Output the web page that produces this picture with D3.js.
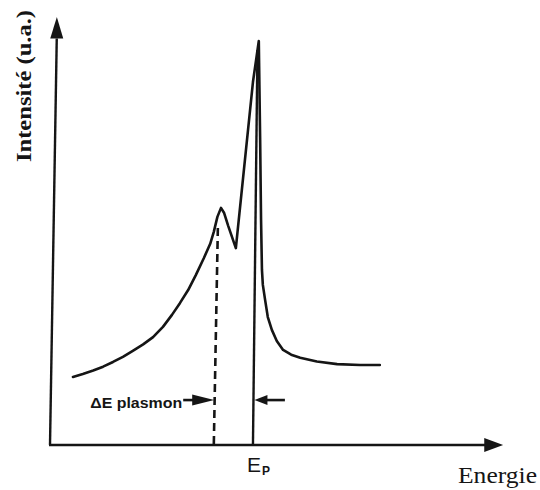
<!DOCTYPE html>
<html>
<head>
<meta charset="utf-8">
<script src="https://cdn.jsdelivr.net/npm/d3@7"></script>
<style>
  html, body { margin: 0; padding: 0; background: #fff; }
  svg { display: block; }
</style>
</head>
<body>
<svg id="chart" width="540" height="490"></svg>
<script>
// ---- data (energy / intensity in arbitrary units) ----
const spectrumE = [5.1, 7.3, 9.6, 11.8, 14.0, 16.2, 18.4, 20.7, 22.9, 25.1, 27.1, 28.9, 30.7, 32.4, 34.2, 35.6, 36.4, 37.2, 38.0, 38.7, 39.6, 41.3, 45.1, 46.4, 46.7, 46.9, 47.1, 47.3, 47.8, 48.4, 49.3, 50.4, 51.8, 53.6, 55.6, 59.3, 63.8, 68.9, 73.3];
const spectrumI = [15.9, 16.6, 17.4, 18.3, 19.4, 20.6, 22.0, 23.5, 25.2, 27.6, 30.4, 33.2, 36.2, 39.7, 43.7, 47.0, 49.8, 53.3, 55.4, 54.2, 51.2, 46.0, 84.8, 94.4, 71.3, 52.6, 40.9, 37.4, 33.9, 29.9, 26.9, 24.3, 22.2, 21.1, 20.4, 19.5, 18.9, 18.7, 18.7];
const plasmonLineE = [37.3, 36.4];
const plasmonLineI = [50.7, 0];
const epLineE = [46.1, 45.1];
const epLineI = [92.3, 0];
const arrowLevel = 10.5;
const labels = { y: "Intensité (u.a.)", x: "Energie", delta: "ΔE plasmon", ep: "E", epSub: "P" };

// ---- scales ----
const x = d3.scaleLinear().domain([0, 100]).range([50, 500]);
const y = d3.scaleLinear().domain([0, 100]).range([445, 17]);

const svg = d3.select("#chart");
const ink = "#151515";

// axes (drawn as arrows, as in the sketch)
const yAxisTopE = 1.5;
svg.append("line")
  .attr("x1", x(0)).attr("y1", y(0))
  .attr("x2", x(yAxisTopE)).attr("y2", y(95))
  .attr("stroke", ink).attr("stroke-width", 2.4);
svg.append("path")
  .attr("d", `M${x(yAxisTopE) + 0.1},${y(100)} L${x(yAxisTopE) - 6.5},${y(95)} L${x(yAxisTopE) + 6.5},${y(95)} Z`)
  .attr("fill", ink);

svg.append("line")
  .attr("x1", x(0) - 1).attr("y1", y(0))
  .attr("x2", x(96.7)).attr("y2", y(0))
  .attr("stroke", ink).attr("stroke-width", 2.6);
svg.append("path")
  .attr("d", `M${x(100.7)},${y(0)} L${x(96.5)},${y(0) - 7} L${x(96.5)},${y(0) + 7} Z`)
  .attr("fill", ink);

// spectrum curve
const pts = spectrumE.map((e, i) => [e, spectrumI[i]]);
const line = d3.line().x(d => x(d[0])).y(d => y(d[1])).curve(d3.curveLinear);
svg.append("path")
  .attr("d", line(pts))
  .attr("fill", "none").attr("stroke", ink)
  .attr("stroke-width", 2.6).attr("stroke-linejoin", "round").attr("stroke-linecap", "round");

// Ep vertical line
svg.append("line")
  .attr("x1", x(epLineE[0])).attr("y1", y(epLineI[0]))
  .attr("x2", x(epLineE[1])).attr("y2", y(epLineI[1]))
  .attr("stroke", ink).attr("stroke-width", 2.4);

// plasmon dashed line
svg.append("line")
  .attr("x1", x(plasmonLineE[0])).attr("y1", y(plasmonLineI[0]))
  .attr("x2", x(plasmonLineE[1])).attr("y2", y(plasmonLineI[1]))
  .attr("stroke", ink).attr("stroke-width", 2.6).attr("stroke-dasharray", "8,5");

// arrows marking delta E
const ay = y(arrowLevel);
// left arrow, pointing right to the dashed line
const lTip = x(plasmonLineE[1]) + 0.4;
svg.append("line").attr("x1", x(29.6)).attr("y1", ay).attr("x2", lTip - 16).attr("y2", ay)
  .attr("stroke", ink).attr("stroke-width", 2.6);
svg.append("path")
  .attr("d", `M${lTip},${ay} L${lTip - 22},${ay - 5.5} L${lTip - 22},${ay + 5.5} Z`)
  .attr("fill", ink);
// right arrow, pointing left to the Ep line
const rTip = x(epLineE[1]) + 1.5;
svg.append("line").attr("x1", rTip + 10).attr("y1", ay).attr("x2", x(52.2)).attr("y2", ay)
  .attr("stroke", ink).attr("stroke-width", 2.6);
svg.append("path")
  .attr("d", `M${rTip},${ay} L${rTip + 13},${ay - 5} L${rTip + 13},${ay + 5} Z`)
  .attr("fill", ink);

// texts
svg.append("text")
  .attr("x", x(29.6) - 93).attr("y", 407.5)
  .attr("font-family", "'Liberation Sans', Arial, sans-serif")
  .attr("font-size", 15.5).attr("font-weight", "bold")
  .attr("textLength", 92).attr("lengthAdjust", "spacingAndGlyphs")
  .attr("fill", ink)
  .text(labels.delta);

const ep = svg.append("text")
  .attr("x", 247).attr("y", 472)
  .attr("font-family", "'Liberation Sans', Arial, sans-serif")
  .attr("fill", ink);
ep.append("tspan").attr("font-size", 21).text(labels.ep);
ep.append("tspan").attr("font-size", 12).attr("font-weight", "bold").attr("dx", 1).attr("dy", 3).text(labels.epSub);

svg.append("text")
  .attr("x", 458).attr("y", 483)
  .attr("font-family", "'Liberation Serif', 'Times New Roman', serif")
  .attr("font-size", 23)
  .attr("textLength", 79).attr("lengthAdjust", "spacingAndGlyphs")
  .attr("fill", ink)
  .text(labels.x);

svg.append("text")
  .attr("transform", "translate(31,162) rotate(-90)")
  .attr("font-family", "'Liberation Serif', 'Times New Roman', serif")
  .attr("font-size", 22).attr("font-weight", "bold")
  .attr("textLength", 152).attr("lengthAdjust", "spacingAndGlyphs")
  .attr("fill", ink)
  .text(labels.y);
</script>
</body>
</html>
